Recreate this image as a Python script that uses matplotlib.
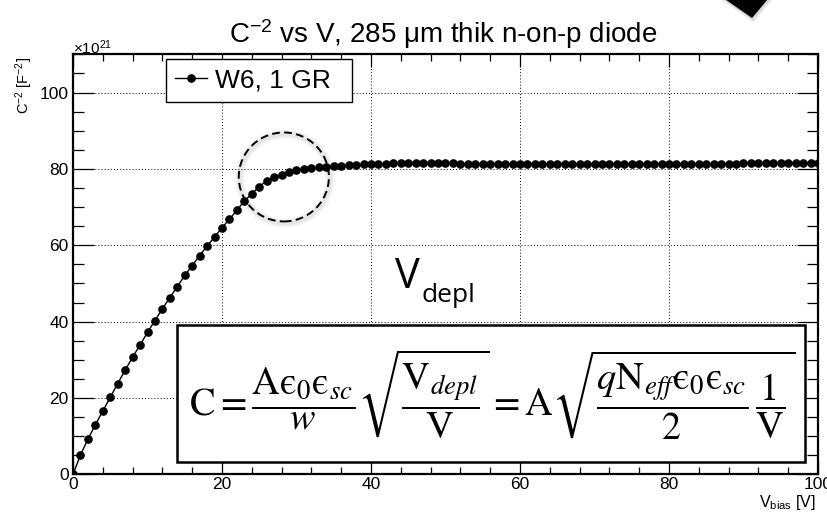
import matplotlib
matplotlib.use("Agg")
import matplotlib.pyplot as plt
from matplotlib.patches import Ellipse, Rectangle, Polygon
from matplotlib.ticker import MultipleLocator

plt.rcParams['font.family'] = ['Liberation Sans', 'DejaVu Sans']
plt.rcParams['mathtext.fontset'] = 'custom'
plt.rcParams['mathtext.rm'] = 'Liberation Sans'
plt.rcParams['mathtext.it'] = 'Liberation Sans:italic'
plt.rcParams['mathtext.sf'] = 'Liberation Sans'

# bias voltage [V] and C^-2 [1e21 F^-2], W6 diode with 1 guard ring
v_bias = list(range(0, 101))
c_inv2 = [
    0.0, 5.1, 9.2, 13.0, 16.6, 20.2, 23.8, 27.3, 30.7, 33.9,
    37.2, 40.3, 43.4, 46.3, 49.2, 52.1, 54.7, 57.3, 59.8, 62.2,
    64.6, 66.8, 69.2, 71.6, 73.5, 75.4, 76.9, 77.8, 78.5, 79.1,
    79.6, 79.9, 80.2, 80.4, 80.6, 80.8, 80.9, 81.0, 81.1, 81.2,
    81.3, 81.4, 81.4, 81.5, 81.5, 81.6, 81.6, 81.6, 81.6, 81.5,
    81.5, 81.5, 81.4, 81.4, 81.4, 81.4, 81.3, 81.3, 81.3, 81.3,
    81.3, 81.3, 81.3, 81.3, 81.3, 81.3, 81.3, 81.3, 81.3, 81.3,
    81.3, 81.3, 81.4, 81.4, 81.4, 81.4, 81.4, 81.4, 81.4, 81.4,
    81.4, 81.4, 81.4, 81.4, 81.4, 81.4, 81.4, 81.4, 81.4, 81.4,
    81.5, 81.5, 81.5, 81.5, 81.5, 81.5, 81.5, 81.5, 81.5, 81.5,
    81.5,
]
series_label = "W6, 1 GR"
v_depl_guess = 28.3   # knee of the curve
c_depl_guess = 77.9

W, H = 828, 515
fig = plt.figure(figsize=(W / 100, H / 100), dpi=100)
ax = fig.add_axes([73 / W, 40.6 / H, 745 / W, 420 / H])

ax.plot(v_bias, c_inv2, color='black', lw=1.0, marker='o', ms=5.2,
        label=series_label, zorder=4)

ax.set_xlim(0, 100)
ax.set_ylim(0, 110)
ax.xaxis.set_major_locator(MultipleLocator(20))
ax.xaxis.set_minor_locator(MultipleLocator(4))
ax.yaxis.set_major_locator(MultipleLocator(20))
ax.yaxis.set_minor_locator(MultipleLocator(5))
ax.tick_params(which='both', direction='in', top=True, right=True, labelsize=12.5)
ax.tick_params(axis='x', which='major', length=9.5, width=0.9, pad=2)
ax.tick_params(axis='x', which='minor', length=4.8, width=0.9)
ax.tick_params(axis='y', which='major', length=15, width=0.9, pad=3)
ax.tick_params(axis='y', which='minor', length=7.7, width=0.9)
for s in ax.spines.values():
    s.set_linewidth(1.6)
ax.grid(True, which='major', color='black', lw=0.7, linestyle=(0, (1, 2.2)))
ax.set_axisbelow(True)

# legend stretched to a fixed box
leg = ax.legend(loc='upper left',
                bbox_to_anchor=(165.7 / W, 1 - 106.7 / H, 186 / W, 47.4 / H),
                bbox_transform=fig.transFigure, borderaxespad=0, mode='expand',
                fontsize=19, frameon=True, fancybox=False, framealpha=1,
                edgecolor='black', handlelength=1.2, handletextpad=0.3,
                borderpad=0.35)
leg.get_frame().set_linewidth(1.0)
leg.set_zorder(6)

# dashed circle around the depletion knee, with soft shadow
for lw, a in [(7, 0.05), (5, 0.07), (3, 0.08)]:
    ax.add_patch(Ellipse((v_depl_guess + 0.15, c_depl_guess - 0.4), 12.1, 23.3,
                         fill=False, edgecolor='gray', lw=lw, alpha=a, zorder=3))
ax.add_patch(Ellipse((v_depl_guess, c_depl_guess), 12.1, 23.3, fill=False,
                     edgecolor='black', lw=1.4, linestyle=(0, (4, 2.2)), zorder=5))

ax.text(44.9, 48.8, "V", fontsize=30, family='Open Sans', ha='center',
        va='baseline', zorder=5)
ax.text(46.8, 45.2, "depl", fontsize=19, family='Open Sans', ha='left',
        va='baseline', zorder=5)

# formula box
ax.add_patch(Rectangle((0.140, 0.0295), 0.8426, 0.3265, transform=ax.transAxes,
                       facecolor='white', edgecolor='black', lw=1.8, zorder=6,
                       clip_on=False))
formula = (r'$\mathrm{C} = \dfrac{\mathrm{Aϵ}_0\mathrm{ϵ}_{sc}}{w}'
           r'\sqrt{\dfrac{\mathrm{V}_{depl}}{\mathrm{V}}} = '
           r'\mathrm{A}\sqrt{\dfrac{q\mathrm{N}_{eff}\mathrm{ϵ}_0\mathrm{ϵ}_{sc}}{2}'
           r'\,\dfrac{1}{\mathrm{V}}}$')
ax.text(0.563, 0.19, formula, transform=ax.transAxes, fontsize=27.5,
        math_fontfamily='stix', ha='center', va='center', zorder=7)

# titles
fig.text(443 / W, 1 - 43 / H, r'C$\mathregular{^{-2}}$ vs V, 285 μm thik n-on-p diode',
         fontsize=20, ha='center', va='baseline')
fig.text(24 / W, 1 - 57 / H, r'C$\mathregular{^{-2}}$ [F$\mathregular{^{-2}}$]',
         fontsize=10.5, rotation=90, ha='center', va='top')
fig.text(816 / W, 1 - 507 / H, r'V$\mathregular{_{bias}}$ [V]', fontsize=11.5,
         ha='right', va='baseline')
fig.text(73 / W, 1 - 54 / H, r'×10$\mathregular{^{21}}$', fontsize=11,
         ha='left', va='baseline')

# black marker shape in the top-right corner, with a soft drop shadow
def px(pts, dx=0, dy=0):
    return [((x + dx) / W, 1 - (y + dy) / H) for x, y in pts]

diamond = [(752, 18), (719, -5), (745, -36), (778, -13)]
for d, a in [(5, 0.06), (4, 0.08), (3, 0.1), (2, 0.12)]:
    fig.patches.append(Polygon(px(diamond, d * 0.4, d), closed=True,
                               facecolor='gray', edgecolor='none', alpha=a,
                               transform=fig.transFigure, figure=fig))
fig.patches.append(Polygon(px(diamond), closed=True, facecolor='black',
                           edgecolor='none', transform=fig.transFigure, figure=fig))

fig.savefig("out.png", dpi=100)
